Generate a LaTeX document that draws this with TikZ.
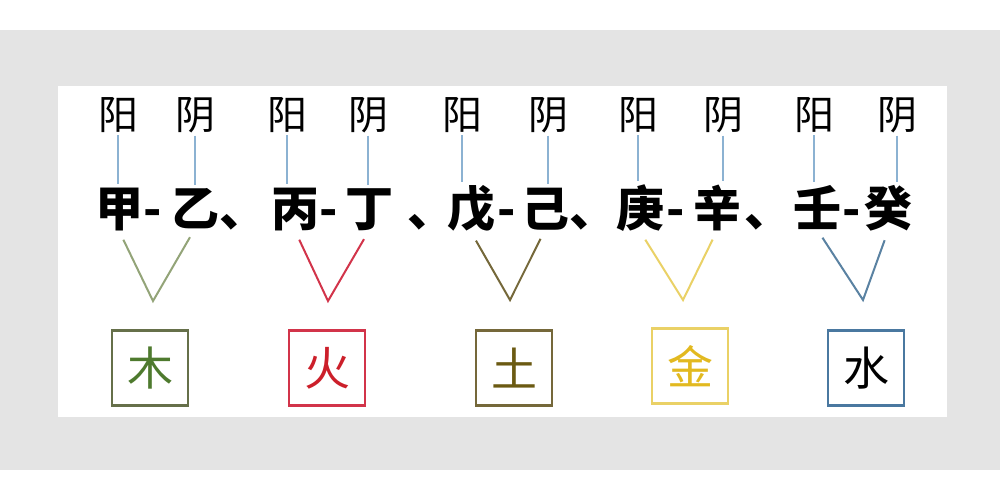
\documentclass[tikz,border=0pt]{standalone}
\usepackage{fontspec}
\newfontfamily\cjk{Noto Sans CJK SC}
\usepackage{xcolor}
\usetikzlibrary{calc}
\definecolor{bgray}{HTML}{E4E4E4}
\definecolor{stem}{HTML}{8CB2D2}
\definecolor{woodline}{HTML}{93A478}
\definecolor{woodbox}{HTML}{66704A}
\definecolor{woodtxt}{HTML}{4E7A2E}
\definecolor{fireline}{HTML}{D2344A}
\definecolor{firetxt}{HTML}{CC1F2A}
\definecolor{earthline}{HTML}{75683A}
\definecolor{earthtxt}{HTML}{6B5A12}
\definecolor{metalline}{HTML}{EAD166}
\definecolor{metaltxt}{HTML}{E2B920}
\definecolor{waterline}{HTML}{5A82A2}
\definecolor{waterbox}{HTML}{4A78A0}

\begin{document}
\begin{tikzpicture}[x=1pt,y=-1pt,
  yy/.style={inner sep=0pt,anchor=base,font=\cjk\fontsize{40}{40}\selectfont},
  gan/.style={inner sep=0pt,anchor=base,font=\cjk\bfseries\fontsize{48}{48}\selectfont},
  elem/.style={draw,line width=2.2pt,minimum width=76pt,minimum height=75pt,
    inner sep=0pt,font=\cjk\fontsize{46}{46}\selectfont},
  stemline/.style={stem,line width=2pt,shorten <=3pt,shorten >=3pt},
  vee/.style={line width=2pt,shorten <=10pt,shorten >=10pt}]

\useasboundingbox (0,0) rectangle (1000,500);
\fill[bgray] (0,30) rectangle (1000,470);
\fill[white] (58,86) rectangle (947,417);

% yang / yin
\node[yy] (y1) at (118,129) {阳};
\node[yy] (n1) at (195,129) {阴};
\node[yy] (y2) at (287,129) {阳};
\node[yy] (n2) at (368,129) {阴};
\node[yy] (y3) at (462,129) {阳};
\node[yy] (n3) at (548,129) {阴};
\node[yy] (y4) at (638,129) {阳};
\node[yy] (n4) at (723,129) {阴};
\node[yy] (y5) at (814,129) {阳};
\node[yy] (n5) at (897,129) {阴};

% heavenly stems
\node[gan] (g1) at (119,226) {甲};
\node[gan] (d1) at (153,226) {-};
\node[gan] (g2) at (195,226) {乙};
\node[gan] (c1) at (243,226) {、};
\node[gan] (g3) at (295,226) {丙};
\node[gan] (d2) at (329,226) {-};
\node[gan] (g4) at (369,226) {丁};
\node[gan] (c2) at (431,226) {、};
\node[gan] (g5) at (471,226) {戊};
\node[gan] (d3) at (507,226) {-};
\node[gan] (g6) at (545,226) {己};
\node[gan] (c3) at (593,226) {、};
\node[gan] (g7) at (640,226) {庚};
\node[gan] (d4) at (676,226) {-};
\node[gan] (g8) at (717,226) {辛};
\node[gan] (c4) at (768,226) {、};
\node[gan] (g9) at (817,226) {壬};
\node[gan] (d5) at (852,226) {-};
\node[gan] (g10) at (888,226) {癸};

\draw[stemline] (y1.south) -- (y1.south |- g1.north);
\draw[stemline] (n1.south) -- (n1.south |- g2.north);
\draw[stemline] (y2.south) -- (y2.south |- g3.north);
\draw[stemline] (n2.south) -- (n2.south |- g4.north);
\draw[stemline] (y3.south) -- (y3.south |- g5.north);
\draw[stemline] (n3.south) -- (n3.south |- g6.north);
\draw[stemline] (y4.south) -- (y4.south |- g7.north);
\draw[stemline] (n4.south) -- (n4.south |- g8.north);
\draw[stemline] (y5.south) -- (y5.south |- g9.north);
\draw[stemline] (n5.south) -- (n5.south |- g10.north);

% five elements
\coordinate (v1) at (153,301);
\coordinate (v2) at (328,301);
\coordinate (v3) at (510,300);
\coordinate (v4) at (683,300);
\coordinate (v5) at (863,300);

\draw[vee,woodline] (g1.south) -- (v1) -- (g2.south);
\draw[vee,fireline] (g3.south) -- (v2) -- (g4.south);
\draw[vee,earthline] (g5.south) -- (v3) -- (g6.south);
\draw[vee,metalline] (g7.south) -- (v4) -- (g8.south);
\draw[vee,waterline] (g9.south) -- (v5) -- (g10.south);

\node[elem,draw=woodbox,text=woodtxt] (mu) at (150,368) {木};
\node[elem,draw=fireline,text=firetxt] (huo) at (327,368) {火};
\node[elem,draw=earthline,text=earthtxt] (tu) at (514,368) {土};
\node[elem,draw=metalline,text=metaltxt] (jin) at (690,366) {金};
\node[elem,draw=waterbox,text=black] (shui) at (866,368) {水};

\end{tikzpicture}
\end{document}
